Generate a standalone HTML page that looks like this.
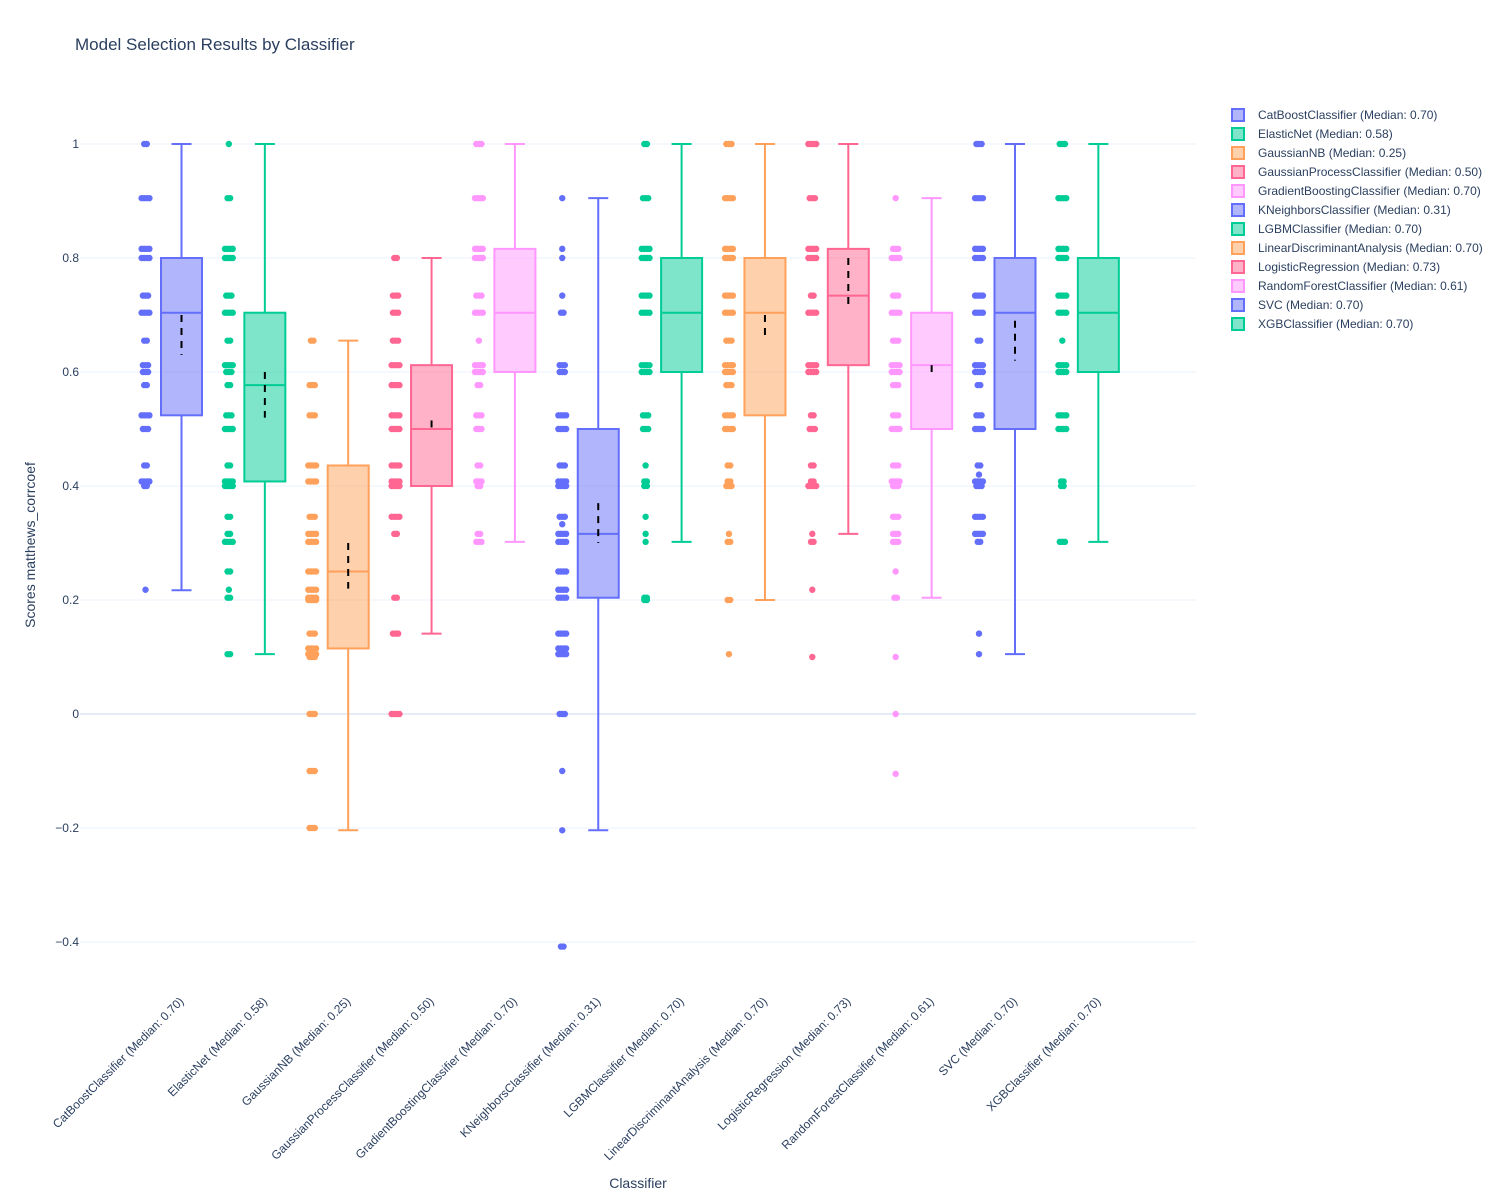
<!DOCTYPE html>
<html><head><meta charset="utf-8"><style>
html,body{margin:0;padding:0;background:#fff;}
svg{display:block;font-family:"Liberation Sans",Arial,sans-serif;}
</style></head><body>
<svg id="chart" width="1500" height="1200" xmlns="http://www.w3.org/2000/svg">
<text x="75" y="50" font-size="17" fill="#2a3f5f">Model Selection Results by Classifier</text>
<g id="grid"></g>
<g id="yticks"></g>
<g id="marks"></g>
<g id="xticks"></g>
<g id="legend"></g>
<text x="35" y="545" font-size="14" fill="#2a3f5f" text-anchor="middle" transform="rotate(-90 35 545)">Scores matthews_corrcoef</text>
<text x="638" y="1188" font-size="14" fill="#2a3f5f" text-anchor="middle">Classifier</text>
</svg>
<script>
const categories = ["CatBoostClassifier","ElasticNet","GaussianNB","GaussianProcessClassifier","GradientBoostingClassifier","KNeighborsClassifier","LGBMClassifier","LinearDiscriminantAnalysis","LogisticRegression","RandomForestClassifier","SVC","XGBClassifier"];
const medianLabels = ["0.70","0.58","0.25","0.50","0.70","0.31","0.70","0.70","0.73","0.61","0.70","0.70"];
const colors = ["#636efa","#00cc96","#FFA15A","#FF6692","#FF97FF","#636efa","#00cc96","#FFA15A","#FF6692","#FF97FF","#636efa","#00cc96"];
const lowerFence = [0.217,0.105,-0.204,0.141,0.302,-0.204,0.302,0.2,0.316,0.204,0.105,0.302];
const q1 = [0.524,0.408,0.115,0.4,0.6,0.204,0.6,0.524,0.612,0.5,0.5,0.6];
const median = [0.704,0.577,0.25,0.5,0.704,0.316,0.704,0.704,0.734,0.612,0.704,0.704];
const q3 = [0.8,0.704,0.436,0.612,0.816,0.5,0.8,0.8,0.816,0.704,0.8,0.8];
const upperFence = [1,1,0.655,0.8,1,0.905,1,1,1,0.905,1,1];
const meanTop = [0.70,0.60,0.30,0.515,null,0.37,null,0.70,0.80,0.612,0.69,null];
const meanBottom = [0.63,0.52,0.22,0.50,null,0.30,null,0.66,0.71,0.60,0.62,null];
const pointValues = [
 [1,0.905,0.816,0.8,0.734,0.704,0.655,0.612,0.6,0.577,0.524,0.5,0.436,0.408,0.4,0.218],
 [1,0.905,0.816,0.8,0.734,0.704,0.655,0.612,0.6,0.577,0.524,0.5,0.436,0.408,0.4,0.346,0.316,0.302,0.25,0.218,0.204,0.105],
 [0.655,0.577,0.524,0.436,0.408,0.346,0.316,0.302,0.25,0.218,0.204,0.2,0.141,0.115,0.105,0.1,0,-0.1,-0.2],
 [0.8,0.734,0.704,0.655,0.612,0.577,0.524,0.5,0.436,0.408,0.4,0.346,0.316,0.204,0.141,0],
 [1,0.905,0.816,0.8,0.734,0.704,0.655,0.612,0.6,0.577,0.524,0.5,0.436,0.408,0.4,0.316,0.302],
 [0.905,0.816,0.8,0.734,0.704,0.612,0.6,0.524,0.5,0.436,0.408,0.4,0.346,0.333,0.316,0.302,0.25,0.218,0.204,0.141,0.115,0.105,0,-0.1,-0.204,-0.408],
 [1,0.905,0.816,0.8,0.734,0.704,0.612,0.6,0.524,0.5,0.436,0.408,0.4,0.346,0.316,0.302,0.204,0.2],
 [1,0.905,0.816,0.8,0.734,0.704,0.655,0.612,0.6,0.577,0.524,0.5,0.436,0.408,0.4,0.316,0.302,0.2,0.105],
 [1,0.905,0.816,0.8,0.734,0.704,0.612,0.6,0.524,0.5,0.436,0.408,0.4,0.316,0.302,0.218,0.1],
 [0.905,0.816,0.8,0.734,0.704,0.655,0.612,0.6,0.577,0.524,0.5,0.436,0.408,0.4,0.346,0.316,0.302,0.25,0.204,0.1,0,-0.105],
 [1,0.905,0.816,0.8,0.734,0.704,0.655,0.612,0.6,0.577,0.524,0.5,0.436,0.42,0.408,0.4,0.346,0.316,0.302,0.141,0.105],
 [1,0.905,0.816,0.8,0.734,0.704,0.655,0.612,0.6,0.524,0.5,0.408,0.4,0.302]
];
const pointCounts = [
 [2,4,4,4,3,4,2,3,3,2,4,3,2,4,2,1],
 [1,2,4,4,3,4,2,4,3,2,3,4,2,4,4,2,2,4,2,1,2,2],
 [2,3,3,4,4,3,4,4,4,4,4,4,3,4,4,3,3,3,3],
 [2,3,3,3,4,4,4,4,4,4,4,4,2,2,3,4],
 [3,4,4,4,3,4,1,4,4,2,3,3,2,3,2,2,3],
 [1,1,1,1,2,3,3,4,4,3,4,4,3,1,4,4,4,4,4,4,4,4,3,1,1,2],
 [2,3,4,4,4,4,4,4,3,3,1,2,2,1,1,1,2,2],
 [3,4,4,4,4,4,3,4,4,3,4,4,2,2,3,1,2,2,1],
 [4,3,4,4,2,4,4,4,2,3,2,2,4,1,2,1,1],
 [1,3,4,3,4,3,4,4,3,3,4,3,4,3,3,3,3,1,2,1,1,1],
 [3,4,4,4,4,4,2,4,4,2,3,4,2,1,4,3,4,4,2,1,1],
 [3,4,4,4,4,4,1,4,4,4,4,2,2,3]
];
const yTicks = [1,0.8,0.6,0.4,0.2,0,-0.2,-0.4];
const yTickLabels = ["1","0.8","0.6","0.4","0.2","0","\u22120.2","\u22120.4"];

const NS="http://www.w3.org/2000/svg";
function y(v){return 714 - v*570;}
function x(i){return 181.5 + i*83.35;}
function mk(tag,attrs,parent){const e=document.createElementNS(NS,tag);for(const k in attrs)e.setAttribute(k,attrs[k]);parent.appendChild(e);return e;}
const grid=document.getElementById('grid'),yt=document.getElementById('yticks'),marks=document.getElementById('marks'),xt=document.getElementById('xticks'),lg=document.getElementById('legend');
yTicks.forEach((v,i)=>{
  const l=mk('line',{x1:80,x2:1196,y1:y(v),y2:y(v),stroke:v===0?'#e5ecf6':'#ebf0f8','stroke-width':v===0?2:1},grid);
  
  
  const t=mk('text',{x:79,y:y(v)+4,'text-anchor':'end','font-size':12,fill:'#2a3f5f'},yt);
  t.textContent=yTickLabels[i];
  
  
});
categories.forEach((c,i)=>{
  const g=mk('g',{},marks);
  
  
  const col=colors[i], cx=x(i), hw=20.5;
  const px=cx-36;
  pointValues[i].forEach((v,j)=>{
    const n=pointCounts[i][j];
    for(let k=0;k<n;k++){
      const p=mk('circle',{cx:px+(k-(n-1)/2)*2.6,cy:y(v),r:3.2,fill:col},g);
      
      
    }
  });
  const w=mk('path',{d:`M${cx},${y(q3[i])}V${y(upperFence[i])}M${cx-10},${y(upperFence[i])}H${cx+10}M${cx},${y(q1[i])}V${y(lowerFence[i])}M${cx-10},${y(lowerFence[i])}H${cx+10}`,stroke:col,'stroke-width':2,fill:'none'},g);
  
  
  const b=mk('rect',{x:cx-hw,y:y(q3[i]),width:hw*2,height:y(q1[i])-y(q3[i]),fill:col,'fill-opacity':0.5,stroke:col,'stroke-width':2},g);
  
  
  const m=mk('line',{x1:cx-hw,x2:cx+hw,y1:y(median[i]),y2:y(median[i]),stroke:col,'stroke-width':2},g);
  
  
  if(meanTop[i]!==null){
    const d=mk('line',{x1:cx,x2:cx,y1:y(meanTop[i]),y2:y(meanBottom[i]),stroke:'#000','stroke-width':2,'stroke-dasharray':'7,6'},g);
    
    
  }
  const lbl=`${c} (Median: ${medianLabels[i]})`;
  const tx=cx+3, ty=1002;
  const t=mk('text',{x:tx,y:ty,'text-anchor':'end','font-size':12,fill:'#2a3f5f',transform:`rotate(-45 ${tx} ${ty})`},xt);
  t.textContent=lbl;
  
  
  const ly=115+i*19;
  const le=mk('g',{},lg);
  
  
  mk('rect',{x:1232,y:ly-6,width:12,height:12,fill:col,'fill-opacity':0.5,stroke:col,'stroke-width':2},le);
  const lt=mk('text',{x:1258,y:ly+4,'font-size':12,fill:'#2a3f5f'},le);
  lt.textContent=lbl;
});
</script>
</body></html>
